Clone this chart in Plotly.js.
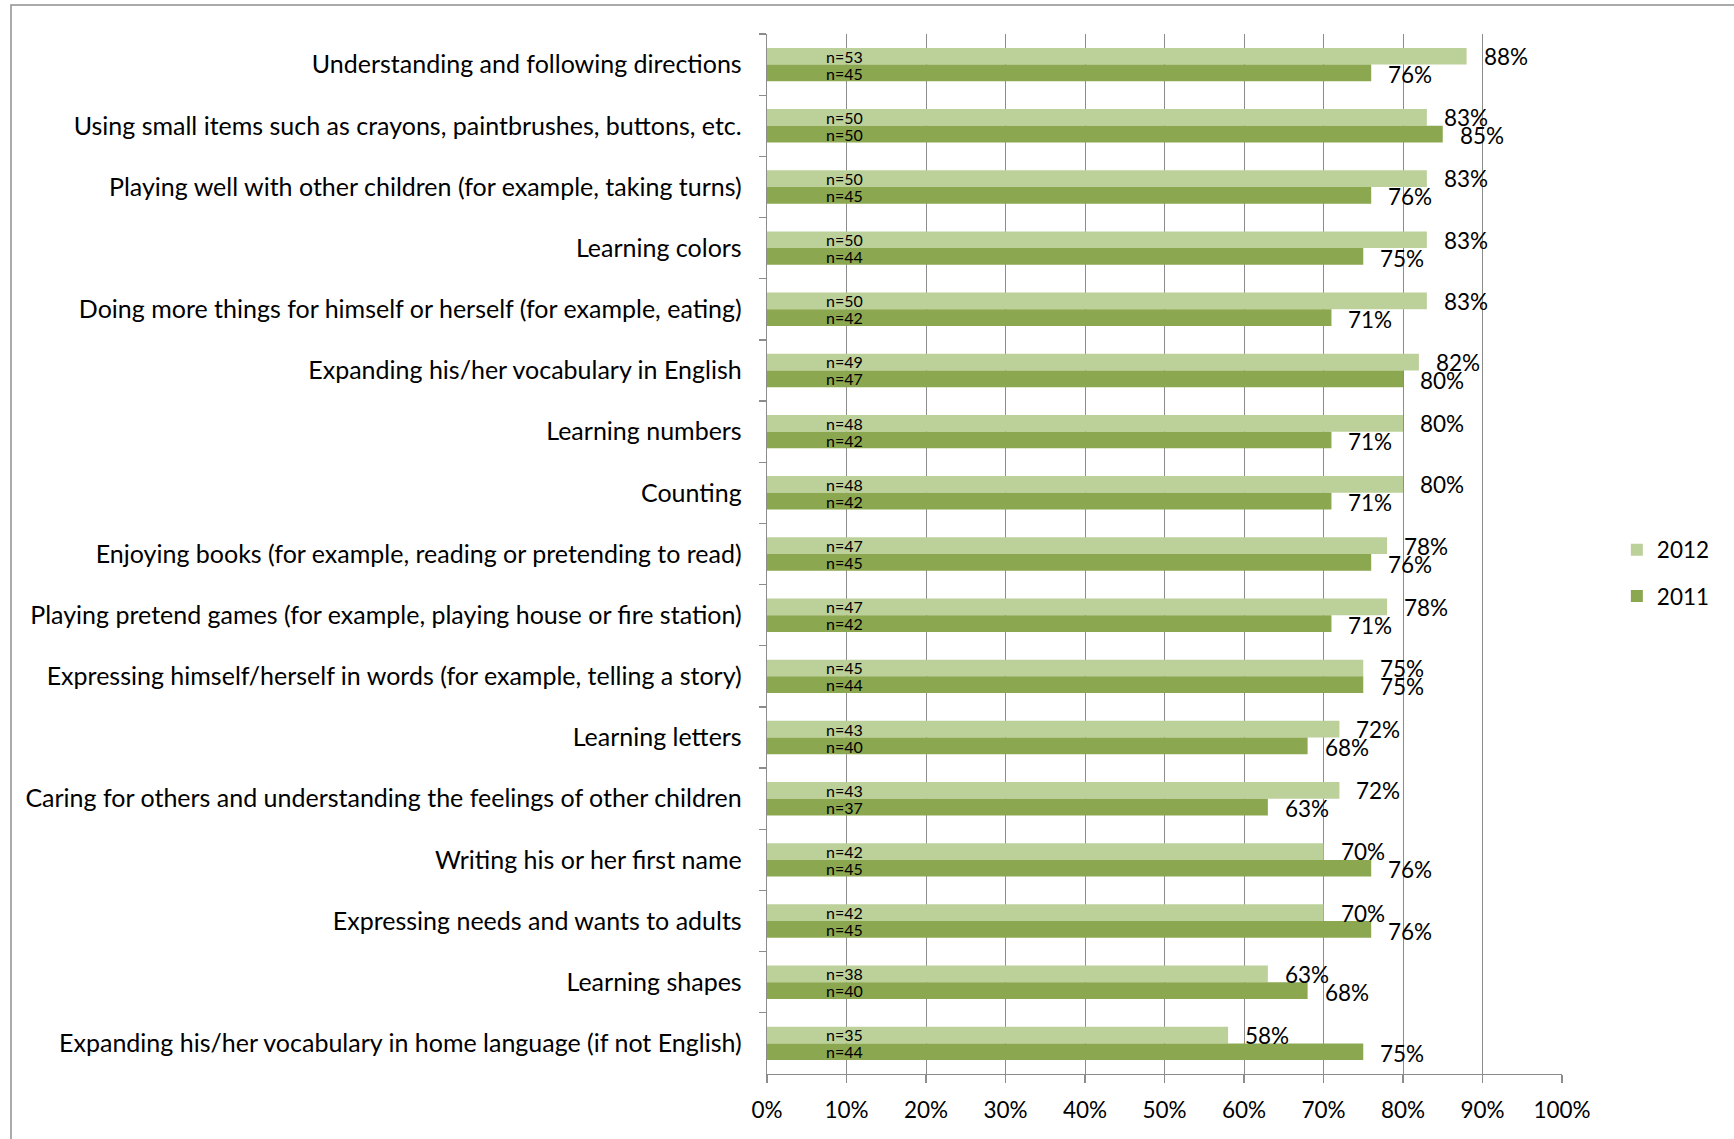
<!DOCTYPE html>
<html>
<head>
<meta charset="utf-8">
<script src="https://cdn.plot.ly/plotly-3.0.1.min.js"></script>
<style>
  html, body { margin: 0; padding: 0; background: #ffffff; }
  #chart { width: 1734px; height: 1139px; }
</style>
</head>
<body>
<div id="chart"></div>
<script>
// ---- data (top to bottom) ----
const categories = [
  "Understanding and following directions",
  "Using small items such as crayons, paintbrushes, buttons, etc.",
  "Playing well with other children (for example, taking turns)",
  "Learning colors",
  "Doing more things for himself or herself (for example, eating)",
  "Expanding his/her vocabulary in English",
  "Learning numbers",
  "Counting",
  "Enjoying books (for example, reading or pretending to read)",
  "Playing pretend games (for example, playing house or fire station)",
  "Expressing himself/herself in words (for example, telling a story)",
  "Learning letters",
  "Caring for others and understanding the feelings of other children",
  "Writing his or her first name",
  "Expressing needs and wants to adults",
  "Learning shapes",
  "Expanding his/her vocabulary in home language (if not English)"
];
const values2012 = [0.88, 0.83, 0.83, 0.83, 0.83, 0.82, 0.80, 0.80, 0.78, 0.78, 0.75, 0.72, 0.72, 0.70, 0.70, 0.63, 0.58];
const values2011 = [0.76, 0.85, 0.76, 0.75, 0.71, 0.80, 0.71, 0.71, 0.76, 0.71, 0.75, 0.68, 0.63, 0.76, 0.76, 0.68, 0.75];
const n2012 = [53, 50, 50, 50, 50, 49, 48, 48, 47, 47, 45, 43, 43, 42, 42, 38, 35];
const n2011 = [45, 50, 45, 44, 42, 47, 42, 42, 45, 42, 44, 40, 37, 45, 45, 40, 44];
const seriesNames = ["2012", "2011"];
const seriesColors = ["#bcd09a", "#8ba74f"];

// ---- styling ----
const FONT = "Lato, 'Liberation Sans', sans-serif";
const GRID = "#8c8c8c";

const traces = [
  {
    type: "bar", orientation: "h", name: seriesNames[0], legendgroup: "g2012",
    x: values2012, y: categories,
    marker: { color: seriesColors[0] }, hoverinfo: "skip"
  },
  {
    type: "bar", orientation: "h", name: seriesNames[1], legendgroup: "g2011",
    x: values2011, y: categories,
    marker: { color: seriesColors[1] }, hoverinfo: "skip"
  }
];

const annotations = [];
categories.forEach((c, i) => {
  annotations.push({
    x: values2012[i], y: c, xref: "x", yref: "y", text: Math.round(values2012[i] * 100) + "%",
    showarrow: false, xanchor: "left", yanchor: "middle", xshift: 15, yshift: 8,
    font: { family: FONT, size: 22.5, color: "#000" }
  });
  annotations.push({
    x: values2011[i], y: c, xref: "x", yref: "y", text: Math.round(values2011[i] * 100) + "%",
    showarrow: false, xanchor: "left", yanchor: "middle", xshift: 15, yshift: -10,
    font: { family: FONT, size: 22.5, color: "#000" }
  });
  annotations.push({
    x: 0, y: c, xref: "x", yref: "y", text: "n=" + n2012[i],
    showarrow: false, xanchor: "left", yanchor: "middle", xshift: 57, yshift: 8.5,
    font: { family: FONT, size: 16, color: "#000" }
  });
  annotations.push({
    x: 0, y: c, xref: "x", yref: "y", text: "n=" + n2011[i],
    showarrow: false, xanchor: "left", yanchor: "middle", xshift: 57, yshift: -8.5,
    font: { family: FONT, size: 16, color: "#000" }
  });
});

const layout = {
  width: 1734, height: 1139,
  margin: { l: 767, r: 172, t: 34, b: 65, pad: 0 },
  paper_bgcolor: "#ffffff", plot_bgcolor: "#ffffff",
  barmode: "group", bargap: 0.454, bargroupgap: 0,
  showlegend: true,
  legend: {
    x: 1.069, xanchor: "left", y: 0.4817, yanchor: "middle",
    traceorder: "grouped", tracegroupgap: 14,
    font: { family: FONT, size: 22.5, color: "#000" },
    bgcolor: "rgba(0,0,0,0)", borderwidth: 0
  },
  xaxis: {
    range: [0, 1], dtick: 0.1, tick0: 0, tickformat: ".0%",
    showgrid: true, gridcolor: GRID, gridwidth: 1,
    zeroline: false, showline: true, linecolor: GRID, linewidth: 1.3,
    ticks: "outside", ticklen: 8, tickcolor: GRID, tickwidth: 1.3,
    ticklabelstandoff: 8,
    tickfont: { family: FONT, size: 22.5, color: "#000" },
    fixedrange: true
  },
  yaxis: {
    type: "category", autorange: "reversed",
    showgrid: false, zeroline: false,
    showline: true, linecolor: GRID, linewidth: 1.3,
    ticks: "outside", tickson: "boundaries", ticklen: 7, tickcolor: GRID, tickwidth: 1.3,
    ticklabelstandoff: 19,
    tickfont: { family: FONT, size: 25, color: "#000" },
    fixedrange: true
  },
  annotations: annotations,
  shapes: [
    {
      type: "rect", xref: "paper", yref: "paper", layer: "below",
      x0: (11 - 767) / 795, x1: (1745 - 767) / 795,
      y0: (1074 - 1150) / 1040, y1: (1074 - 5) / 1040,
      line: { color: "#8f8f8f", width: 1.5 }, fillcolor: "rgba(0,0,0,0)"
    }
  ]
};

Plotly.newPlot("chart", traces, layout, { staticPlot: true, displayModeBar: false });
</script>
</body>
</html>
